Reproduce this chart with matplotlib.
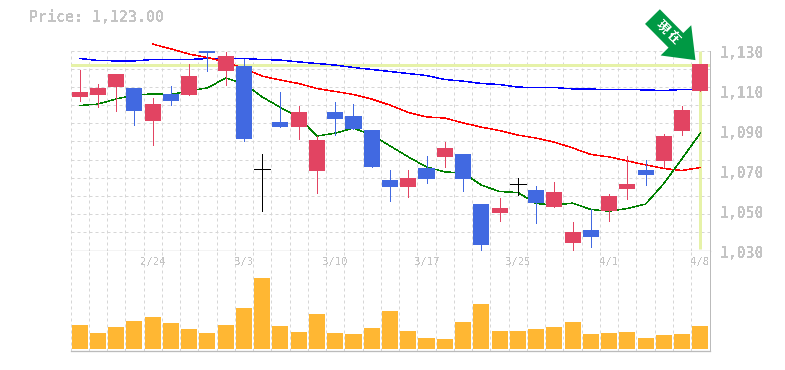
import numpy as np
import matplotlib
matplotlib.use('Agg')
import matplotlib.pyplot as plt

plt.rcParams['font.family'] = ['DejaVu Sans Mono']
plt.rcParams['text.antialiased'] = False

opens = [1106.7, 1107.7, 1111.7, 1111.2, 1094.7, 1108.2, 1107.7, 1130.0, 1119.7, 1122.2, 1071.0, 1094.2,
         1091.7, 1069.7, 1099.2, 1097.2, 1090.2, 1065.2, 1061.7, 1071.2, 1076.7, 1078.2, 1053.2, 1048.7,
         1063.2, 1060.2, 1051.7, 1033.7, 1040.2, 1049.7, 1060.7, 1070.2, 1074.7, 1089.7, 1109.7]
closes = [1109.2, 1111.2, 1118.2, 1099.7, 1103.2, 1104.7, 1117.2, 1128.7, 1127.2, 1085.7, 1071.0, 1091.7,
          1099.2, 1085.2, 1095.7, 1090.7, 1071.7, 1061.7, 1066.2, 1065.7, 1081.2, 1065.7, 1032.7, 1051.2,
          1063.2, 1053.7, 1059.2, 1039.2, 1036.7, 1057.2, 1063.2, 1067.7, 1087.2, 1100.2, 1123.2]
highs = [1120.2, 1113.2, 1118.2, 1111.2, 1106.2, 1112.2, 1123.2, 1130.0, 1129.2, 1126.0, 1078.2, 1109.2,
         1102.2, 1087.2, 1104.2, 1103.2, 1090.2, 1070.2, 1070.2, 1077.2, 1084.2, 1078.2, 1053.2, 1056.2,
         1066.2, 1062.2, 1064.2, 1044.2, 1050.7, 1058.2, 1077.2, 1075.2, 1088.2, 1102.2, 1123.2]
lows = [1104.7, 1101.7, 1099.7, 1092.7, 1082.7, 1102.7, 1107.7, 1119.7, 1112.7, 1084.7, 1049.7, 1091.7,
        1085.7, 1058.7, 1087.7, 1090.7, 1071.7, 1054.7, 1056.7, 1063.7, 1071.7, 1059.7, 1030.0, 1044.7,
        1057.7, 1043.7, 1051.7, 1030.0, 1031.7, 1044.7, 1055.7, 1062.7, 1071.7, 1087.7, 1109.7]
ma_short = [1102.5, 1103.2, 1105.8, 1107.7, 1108.3, 1108.0, 1109.8, 1111.3, 1116.2, 1113.5, 1106.8, 1101.5,
            1096.8, 1087.2, 1088.7, 1091.2, 1087.7, 1082.3, 1076.8, 1071.8, 1069.3, 1068.8, 1062.7, 1059.5,
            1059.0, 1053.5, 1052.7, 1053.7, 1050.5, 1049.7, 1051.0, 1053.2, 1063.5, 1076.0, 1088.7]
# the middle line only starts at the 5th day
ma_mid = [1133.2, 1130.8, 1128.2, 1126.5, 1124.3, 1121.0, 1117.2, 1115.2, 1113.5, 1111.0, 1109.5, 1108.0,
          1105.7, 1102.7, 1099.0, 1096.8, 1096.2, 1093.8, 1091.7, 1090.0, 1087.7, 1086.2, 1084.2, 1081.3,
          1078.0, 1076.8, 1074.8, 1072.8, 1071.0, 1070.0, 1071.5]
ma_long = [1126.0, 1125.0, 1124.8, 1124.8, 1125.5, 1125.5, 1125.5, 1126.0, 1126.0, 1126.0, 1125.5, 1125.2,
           1124.3, 1123.5, 1122.7, 1121.5, 1120.5, 1119.5, 1118.5, 1117.5, 1115.5, 1114.7, 1113.5, 1113.0,
           1111.7, 1111.5, 1111.5, 1110.8, 1110.7, 1110.5, 1110.5, 1110.3, 1110.0, 1110.5, 1110.5]
volumes = [24, 16, 22, 28, 32, 26, 20, 16, 24, 41, 71, 23, 17, 35, 16, 15, 21, 38,
           18, 11, 10, 27, 45, 18, 18, 20, 22, 27, 15, 16, 17, 11, 14, 15, 23]
date_pos = [4, 9, 14, 19, 24, 29, 34]
date_labels = ['2/24', '3/3', '3/10', '3/17', '3/25', '4/1', '4/8']
price_ticks = [1130, 1110, 1090, 1070, 1050, 1030]
current_price = '1,123.00'
arrow_text = '現在'

RED = '#e24462'
BLUE = '#4169e1'
GRAY = '#c4c4c4'
GRID = '#d6d6d6'
HILITE = '#e6f2a8'
W = 785
H = 370
PX = 0.72  # 1 pixel in points
THIN = 0.3  # agg rounds aliased widths, below 0.5px it stays at half a pixel
DASH = (0, (3, 3))  # scaled by the line width, 3px on 3px

fig = plt.figure(figsize=(W / 100, H / 100), dpi=100, facecolor='white')
ax = fig.add_axes([70.5 / W, (H - 250.5) / H, 639 / W, 200 / H])
ax_vol = fig.add_axes([70.5 / W, (H - 350.5) / H, 639 / W, 100 / H])

x = np.arange(len(closes))
for a in (ax, ax_vol):
    a.set_xlim(-0.5, len(closes) - 0.5)
    a.set_xticks(np.arange(-0.5, len(closes)))
    a.grid(axis='x', color=GRID, lw=1 * PX, ls=DASH, clip_on=False)
    a.set_axisbelow(True)
    a.tick_params(left=False, bottom=False, labelleft=False, labelbottom=False)
    for s in a.spines.values():
        s.set_visible(False)
    a.spines['right'].set_visible(True)
    a.spines['right'].set_color('#bbbbbb')
    a.spines['right'].set_linewidth(1 * PX)
    a.spines['bottom'].set_visible(True)
    a.spines['bottom'].set_color('#bbbbbb')
    a.spines['bottom'].set_linewidth(1.3 * PX)

ax.set_ylim(1030, 1130)
ax.set_yticks(np.linspace(1030, 1130, 12))
ax.grid(axis='y', color=GRID, lw=1 * PX, ls=DASH, clip_on=False)

ax.axhline(float(current_price.replace(',', '')), color=HILITE, lw=3 * PX, zorder=1.5)
ax.plot([x[-1], x[-1]], [1031, 1130], color=HILITE, lw=3 * PX, zorder=1.5, solid_capstyle='butt')

ax.plot(x, ma_long, color='#0000ff', lw=THIN, aa=False, zorder=2, clip_on=False)
ax.plot(x[4:], ma_mid, color='#ff0000', lw=THIN, aa=False, zorder=2, clip_on=False)
ax.plot(x, ma_short, color='#008000', lw=THIN, aa=False, zorder=2, clip_on=False)

for i in x:
    o, c = opens[i], closes[i]
    col = RED if c > o else BLUE if c < o else 'black'
    ax.vlines(i, lows[i], highs[i], color=col, lw=1 * PX, aa=False, zorder=3, clip_on=False)
    if c == o:
        ax.hlines(c, i - 0.44, i + 0.44, color=col, lw=1 * PX, aa=False, zorder=3)
    else:
        ax.bar(i, abs(c - o), bottom=min(o, c), width=0.88, color=col, aa=False, zorder=3, clip_on=False)

for v in price_ticks:
    ax.annotate(f'{v:,}', (1, v), xycoords=ax.get_yaxis_transform(), xytext=(10, -3),
                textcoords='offset pixels', ha='left', va='center', fontsize=10.6, color=GRAY,
                fontweight='bold', annotation_clip=False)

ax_vol.set_ylim(-2, 98)
ax_vol.bar(x, volumes, width=0.88, color='#ffb733', aa=False, zorder=3)
for p, lab in zip(date_pos, date_labels):
    ax_vol.text(p, 0.88, lab, transform=ax_vol.get_xaxis_transform(), ha='center', va='center',
                fontsize=7.6, color=GRAY)

fig.text(29 / W, (H - 18) / H, 'Price: ' + current_price, ha='left', va='center', fontsize=10.8,
         color=GRAY, fontweight='bold')

# arrow pointing at the last candle
tip = (x[-1] - 0.27, 1125.2)
ax.annotate('', xy=tip, xytext=(-43, 43.5), textcoords='offset pixels',
            annotation_clip=False, zorder=5,
            arrowprops=dict(arrowstyle='simple,head_length=20,head_width=31,tail_width=15',
                            mutation_scale=1, color='#009944', lw=0, shrinkA=0, shrinkB=0))
for ch, off in zip(arrow_text, [(-33, 33), (-22, 23)]):
    ax.annotate(ch, xy=tip, xytext=off, textcoords='offset pixels',
                ha='center', va='center', rotation=-45, rotation_mode='anchor', fontsize=9, color='white',
                family=['Noto Sans CJK JP', 'DejaVu Sans'], fontweight='bold', annotation_clip=False, zorder=6)

fig.savefig('out.png', dpi=100)
